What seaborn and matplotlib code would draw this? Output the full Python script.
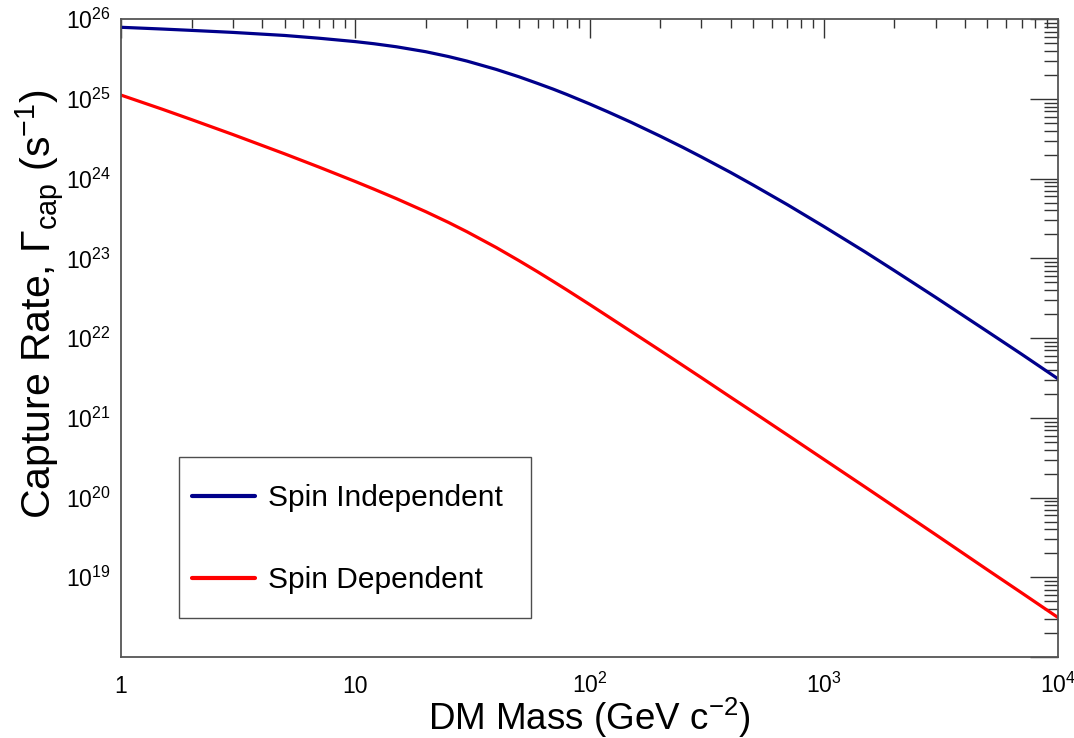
import numpy as np
import pandas as pd
import matplotlib
matplotlib.use("Agg")
import matplotlib.pyplot as plt
import seaborn as sns
from matplotlib.ticker import FixedLocator, FixedFormatter, LogLocator, NullFormatter

# ---- data ----
mass = [1, 1.5, 2, 3, 5, 7, 10, 12, 15, 20, 25, 30, 40, 50, 60, 70, 80, 100, 120,
        150, 200, 250, 300, 400, 500, 700, 1000, 1500, 2000, 3000, 5000, 7000, 10000]
spin_independent = [7.94e25, 7.55e25, 7.26e25, 6.85e25, 6.27e25, 5.79e25, 5.25e25,
                    4.94e25, 4.52e25, 3.92e25, 3.41e25, 2.99e25, 2.35e25, 1.90e25,
                    1.57e25, 1.33e25, 1.14e25, 8.69e24, 6.89e24, 5.13e24, 3.43e24,
                    2.48e24, 1.88e24, 1.20e24, 8.32e23, 4.72e23, 2.52e23, 1.21e23,
                    7.05e22, 3.26e22, 1.21e22, 6.28e21, 3.09e21]
spin_dependent = [1.12e25, 7.45e24, 5.52e24, 3.59e24, 2.05e24, 1.40e24, 9.23e23,
                  7.41e23, 5.62e23, 3.86e23, 2.83e23, 2.16e23, 1.37e23, 9.38e22,
                  6.81e22, 5.15e22, 4.03e22, 2.65e22, 1.87e22, 1.22e22, 7.03e21,
                  4.56e21, 3.20e21, 1.82e21, 1.18e21, 6.10e20, 3.02e20, 1.36e20,
                  7.69e19, 3.44e19, 1.24e19, 6.37e18, 3.13e18]
series_names = ["Spin Independent", "Spin Dependent"]
series_colors = ["#00008B", "#FF0000"]

x_ticks = [1, 10, 100, 1000, 10000]
x_tick_labels = ["1", "10", r"$10^{2}$", r"$10^{3}$", r"$10^{4}$"]
y_ticks = [1e18, 1e19, 1e20, 1e21, 1e22, 1e23, 1e24, 1e25, 1e26]
y_tick_labels = ["", r"$10^{19}$", r"$10^{20}$", r"$10^{21}$", r"$10^{22}$",
                 r"$10^{23}$", r"$10^{24}$", r"$10^{25}$", r"$10^{26}$"]

df = pd.concat([
    pd.DataFrame({"mass": mass, "rate": spin_independent, "series": series_names[0]}),
    pd.DataFrame({"mass": mass, "rate": spin_dependent, "series": series_names[1]}),
])

# ---- style ----
sns.set_style("white")
plt.rcParams["font.family"] = ["Liberation Sans", "DejaVu Sans"]
plt.rcParams["mathtext.fontset"] = "custom"
plt.rcParams["mathtext.rm"] = "Liberation Sans"
plt.rcParams["mathtext.it"] = "Liberation Sans:italic"
plt.rcParams["mathtext.bf"] = "Liberation Sans:bold"
plt.rcParams["mathtext.default"] = "regular"
plt.rcParams["text.color"] = "black"
plt.rcParams["axes.labelcolor"] = "black"
plt.rcParams["xtick.labelcolor"] = "black"
plt.rcParams["ytick.labelcolor"] = "black"

fig = plt.figure(figsize=(10.74, 7.38), dpi=100)
ax = fig.add_axes([121 / 1074, 81 / 738, 937 / 1074, 637.7 / 738])

sns.lineplot(data=df, x="mass", y="rate", hue="series", hue_order=series_names,
             palette=dict(zip(series_names, series_colors)), linewidth=2.3,
             ax=ax, legend=True)

ax.set_xscale("log")
ax.set_yscale("log")
ax.set_xlim(1, 1e4)
ax.set_ylim(1e18, 1e26)

ax.xaxis.set_major_locator(FixedLocator(x_ticks))
ax.xaxis.set_major_formatter(FixedFormatter(x_tick_labels))
ax.xaxis.set_minor_locator(LogLocator(base=10, subs=np.arange(2, 10)))
ax.xaxis.set_minor_formatter(NullFormatter())
ax.yaxis.set_major_locator(FixedLocator(y_ticks))
ax.yaxis.set_major_formatter(FixedFormatter(y_tick_labels))
ax.yaxis.set_minor_locator(LogLocator(base=10, subs=np.arange(2, 10), numticks=20))
ax.yaxis.set_minor_formatter(NullFormatter())

for s in ax.spines.values():
    s.set_visible(True)
    s.set_color("#555555")
    s.set_linewidth(1.3)

ax.tick_params(axis="both", which="both", direction="in", top=True, right=True,
               color="#333333", width=1.0)
ax.tick_params(axis="x", which="major", length=14, pad=26, labelsize=16.5)
ax.tick_params(axis="x", which="minor", length=6.5)
ax.tick_params(axis="y", which="major", length=20, pad=7.5, labelsize=16.5)
ax.tick_params(axis="y", which="minor", length=10)
for t in ax.xaxis.get_major_ticks():
    t.label1.set_va("baseline")

ax.set_xlabel(r"DM Mass (GeV c$^{-2}$)", fontsize=26.5, va="baseline")
ax.set_ylabel(r"Capture Rate, $\Gamma_{cap}$ (s$^{-1}$)", fontsize=29.5)
ax.xaxis.set_label_coords(0.5, -0.1145)
ax.yaxis.set_label_coords(-0.059, 0.553)

leg = ax.legend(loc="upper left", bbox_to_anchor=(0.0619, 0.0643, 0.3757, 0.2493),
                mode="expand", borderaxespad=0,
                fontsize=21.5, frameon=True, fancybox=False, edgecolor="#222222",
                handlelength=2.1, handletextpad=0.45, labelspacing=0.97,
                handleheight=2.36, borderpad=0.43, title=None)
leg.get_frame().set_linewidth(1.0)
for h in leg.get_lines():
    h.set_linewidth(3)
    h.set_ydata(np.asarray(h.get_ydata(), dtype=float) - 6.0)

fig.savefig("out.png", dpi=100)
